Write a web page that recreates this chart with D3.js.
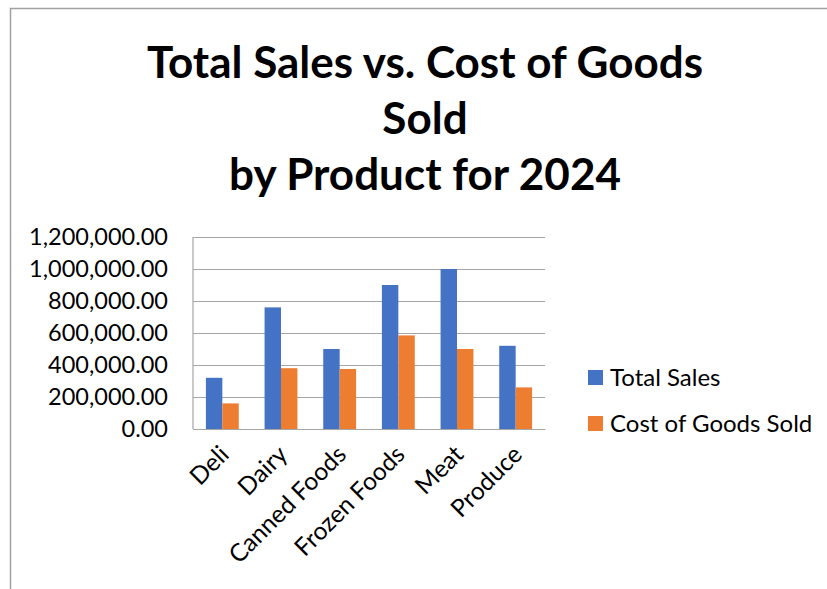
<!DOCTYPE html>
<html>
<head>
<meta charset="utf-8">
<script src="https://cdn.jsdelivr.net/npm/d3@7"></script>
<style>
  body { margin: 0; background: #fff; }
  svg { display: block; font-family: Lato, "Open Sans", sans-serif; }
</style>
</head>
<body>
<div id="chart-area"></div>
<script>
// data
var categories = ["Deli", "Dairy", "Canned Foods", "Frozen Foods", "Meat", "Produce"];
var totalSales = [320000, 760000, 500000, 900000, 1000000, 520000];
var costOfGoods = [160000, 380000, 375000, 585000, 500000, 260000];
var seriesNames = ["Total Sales", "Cost of Goods Sold"];
var seriesColors = ["#4472c4", "#ed7d31"];
var yTicks = [0, 200000, 400000, 600000, 800000, 1000000, 1200000];
var titleLines = ["Total Sales vs. Cost of Goods", "Sold", "by Product for 2024"];

var W = 827, H = 589;
var margin = { left: 193, right: 282, top: 237, bottom: 160 };
var width = W - margin.left - margin.right,
    height = H - margin.top - margin.bottom;

var svg = d3.select("#chart-area")
  .append("svg")
    .attr("width", W)
    .attr("height", H);

// outer frame (runs off the right and bottom edges)
svg.append("rect")
  .attr("x", 10.5)
  .attr("y", 8.5)
  .attr("width", W)
  .attr("height", H)
  .attr("fill", "none")
  .attr("stroke", "#a0a0a0")
  .attr("stroke-width", 1.5);

// title
svg.append("text")
  .attr("x", 425)
  .attr("y", 78)
  .attr("text-anchor", "middle")
  .attr("font-size", "44px")
  .attr("font-weight", "bold")
  .attr("fill", "#000")
  .selectAll("tspan")
  .data(titleLines)
  .enter().append("tspan")
    .attr("x", 425)
    .attr("dy", function(d, i){ return i == 0 ? 0 : 56; })
    .text(function(d){ return d; });

var g = svg.append("g")
  .attr("transform", "translate(" + margin.left + "," + margin.top + ")");

// scales
var x0 = d3.scaleBand()
  .domain(categories)
  .range([0, width])
  .paddingInner(0.44)
  .paddingOuter(0.22);

var x1 = d3.scaleBand()
  .domain(seriesNames)
  .range([0, x0.bandwidth()]);

var y = d3.scaleLinear()
  .domain([0, 1200000])
  .range([height, 0]);

// gridlines
g.append("g")
  .attr("class", "grid")
  .call(d3.axisLeft(y).tickValues(yTicks).tickSize(-width).tickFormat(""))
  .call(function(s){ s.select(".domain").remove(); })
  .selectAll("line")
    .attr("stroke", "#a6a6a6")
    .attr("stroke-width", 1.2);

// left border line of plot
g.append("line")
  .attr("x1", 0).attr("x2", 0)
  .attr("y1", 0).attr("y2", height)
  .attr("stroke", "#a6a6a6")
  .attr("stroke-width", 1.2);

// y axis labels
var yAxis = g.append("g")
  .call(d3.axisLeft(y).tickValues(yTicks).tickSize(0).tickPadding(25)
    .tickFormat(d3.format(",.2f")));
yAxis.select(".domain").remove();
yAxis.selectAll("text")
  .attr("font-family", "Lato, sans-serif")
  .attr("font-size", "23.5px")
  .attr("fill", "#000");

// bars
var rows = categories.map(function(c, i){
  return { cat: c, values: [totalSales[i], costOfGoods[i]] };
});

var groups = g.selectAll(".cat")
  .data(rows)
  .enter().append("g")
    .attr("class", "cat")
    .attr("transform", function(d){ return "translate(" + x0(d.cat) + ",0)"; });

groups.selectAll("rect")
  .data(function(d){ return d.values.map(function(v, j){ return { key: seriesNames[j], value: v, color: seriesColors[j] }; }); })
  .enter().append("rect")
    .attr("x", function(d){ return x1(d.key); })
    .attr("width", x1.bandwidth())
    .attr("y", function(d){ return y(d.value); })
    .attr("height", function(d){ return height - y(d.value); })
    .attr("fill", function(d){ return d.color; });

// x axis
var xAxis = g.append("g")
  .attr("transform", "translate(0," + height + ")")
  .call(d3.axisBottom(x0).tickSize(0).tickPadding(0));
xAxis.select(".domain")
  .attr("stroke", "#a6a6a6")
  .attr("stroke-width", 1.2);
xAxis.selectAll("text")
  .attr("font-family", "Lato, sans-serif")
  .attr("font-size", "24.5px")
  .attr("fill", "#000")
  .attr("text-anchor", "end")
  .attr("dy", "0")
  .attr("transform", "translate(8,27) rotate(-45)");

// legend
var legend = svg.append("g")
  .attr("transform", "translate(588,378)");
var items = legend.selectAll(".item")
  .data(seriesNames)
  .enter().append("g")
    .attr("class", "item")
    .attr("transform", function(d, i){ return "translate(0," + (i * 46) + ")"; });
items.append("rect")
  .attr("x", 0).attr("y", -8)
  .attr("width", 15).attr("height", 15)
  .attr("fill", function(d, i){ return seriesColors[i]; });
items.append("text")
  .attr("x", 22)
  .attr("y", 8)
  .attr("font-size", "24px")
  .attr("fill", "#000")
  .text(function(d){ return d; });
</script>
</body>
</html>
